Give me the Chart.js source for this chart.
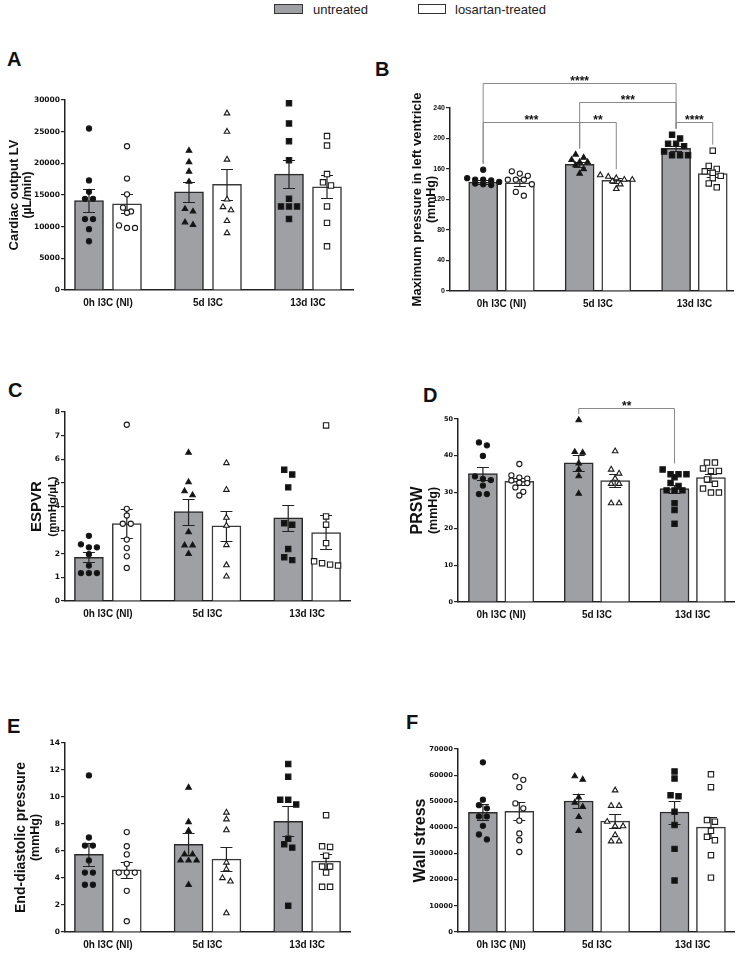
<!DOCTYPE html>
<html>
<head>
<meta charset="utf-8">
<script src="https://cdn.jsdelivr.net/npm/chart.js@4.4.1/dist/chart.umd.min.js"></script>
<style>
  body{margin:0;background:#fff;width:740px;height:953px;position:relative;overflow:hidden;
       font-family:"Liberation Sans",Arial,sans-serif;color:#222;}
  canvas{position:absolute;}
  .letter{position:absolute;font-weight:bold;font-size:20px;line-height:20px;color:#111;}
  .lgbox{position:absolute;height:8px;border:1.5px solid #333;}
  .lgtxt{position:absolute;font-size:13px;line-height:13px;}
</style>
</head>
<body>
<script>
// ---- data ----
const GROUPS = ['0h I3C (NI)', '5d I3C', '13d I3C'];
const SERIES = ['untreated', 'losartan-treated'];

// A: cardiac output LV (µL/min)
const coMeanU = [14100, 15500, 18300];
const coSemU  = [1800, 1600, 2250];
const coMeanL = [13600, 16700, 16300];
const coSemL  = [1500, 2450, 1800];
const coPtsU = [[25500,17300,15500,14400,14400,11200,11200,9600,7700],
                [22000,20200,18700,17100,12800,12400,10700,10300],
                [29500,26300,23500,20500,14400,13200,13200,13200,11200]];
const coPtsL = [[22700,17600,15100,13000,12400,12200,10200,9800,9800],
                [27900,25000,20600,14300,13100,12600,10900,9000],
                [24300,22800,18300,17000,16500,13200,10600,6900]];

// B: maximum pressure in left ventricle (mmHg)
const lvpMeanU = [143, 166, 187];
const lvpSemU  = [3, 3, 3.5];
const lvpMeanL = [142, 145, 154];
const lvpSemL  = [4.5, 3, 5];
const lvpPtsU = [[159,148,146,146,145,143,141,140,139],
                 [179,175,172,169,169,165,160,154],
                 [205,200,193,193,190,183,178,178,178]];
const lvpPtsL = [[157,154,151,146,146,146,140,130,125],
                 [152,150,148,146,146,144,140,134],
                 [184,164,160,157,155,151,148,141,136]];
const lvpSig = [
  {a:[0,0], b:[2,0], level:273, text:'****'},
  {a:[1,0], b:[2,0], level:248, text:'***'},
  {a:[0,0], b:[1,0], level:222, text:'***'},
  {a:[1,0], b:[1,1], level:222, text:'**'},
  {a:[2,0], b:[2,1], level:222, text:'****'}
];

// C: ESPVR (mmHg/µL)
const espMeanU = [1.85, 3.78, 3.52];
const espSemU  = [0.21, 0.55, 0.55];
const espMeanL = [3.28, 3.18, 2.9];
const espSemL  = [0.6, 0.65, 0.72];
const espPtsU = [[2.76,2.4,2.27,2.27,1.98,1.5,1.18,1.18,1.18],
                 [6.28,5.03,4.65,4.48,2.92,2.36,2.36,2.0],
                 [5.56,5.35,4.81,3.29,3.23,2.2,1.85,1.73]];
const espPtsL = [[7.46,3.9,3.62,3.27,3.27,2.6,2.24,1.89,1.4],
                 [5.84,4.71,3.53,3.19,2.37,1.52,1.04],
                 [7.43,3.58,3.23,2.45,1.68,1.6,1.54,1.5]];

// D: PRSW (mmHg)
const prswMeanU = [35.1, 38.0, 31.0];
const prswSemU  = [1.9, 2.1, 1.1];
const prswMeanL = [33.0, 33.2, 34.0];
const prswSemL  = [1.0, 1.7, 1.1];
const prswPtsU = [[43.6,42.8,39.9,34.3,33.6,33.3,31.8,29.5,29.5],
                  [49.7,41.0,40.8,37.9,36.2,34.4,29.6],
                  [36.2,34.9,34.9,34.9,34.1,32.5,31.7,30.5,30.5,30.5,27.0,25.1,21.4]];
const prswPtsL = [[37.7,34.6,34.0,33.7,33.2,32.6,32.5,31.3,30.1,29.1],
                  [41.2,36.2,35.1,33.7,32.3,32.3,27.0,27.0],
                  [38.1,38.1,36.5,35.8,35.8,33.5,32.3,31.0,29.9,29.9]];
const prswSig = [{a:[1,0], b:[2,0], level:53, text:'**'}];

// E: end-diastolic pressure (mmHg)
const edpMeanU = [5.75, 6.5, 8.2];
const edpSemU  = [0.85, 0.8, 1.1];
const edpMeanL = [4.6, 5.4, 5.25];
const edpSemL  = [0.6, 0.9, 0.55];
const edpPtsU = [[11.6,7.0,6.4,6.4,5.3,4.4,4.4,3.5,3.5],
                 [10.7,8.15,7.5,5.75,5.75,5.3,5.3,5.3,3.5],
                 [12.45,11.5,9.8,9.8,9.45,6.9,6.5,6.25,1.95]];
const edpPtsL = [[7.4,6.35,5.75,5.05,4.4,4.4,4.4,3.05,0.8],
                 [8.85,8.35,7.55,5.15,4.65,4.0,3.75,1.4],
                 [8.65,6.35,6.3,5.65,4.85,4.85,4.4,3.35,3.35]];

// F: wall stress
const wsMeanU = [45800, 50100, 45900];
const wsSemU  = [3000, 2500, 4400];
const wsMeanL = [46200, 42400, 40100];
const wsSemL  = [3500, 2700, 4000];
const wsPtsU = [[64900,50600,48500,47300,44200,44200,40600,37300,35400],
                [59600,58300,51500,49500,47900,44000,38700],
                [61400,58700,52300,51900,46000,40900,31800,19700]];
const wsPtsL = [[59500,58200,55400,49200,47300,42600,37700,35100,30600],
                [54200,48300,48300,42200,40500,40500,37100,34700,34700],
                [60300,55400,42800,42200,38700,36400,35100,29400,20800]];

// ---- styling / layout ----
const BAR_FILL = ['#9fa0a4', '#ffffff'];
const BAR_EDGE = ['#2a2a2a', '#3a3a3a'];
const MARK_FILL = ['#111111', '#ffffff'];
const MARK_STYLE = ['circle', 'triangle', 'rect'];
const MARK_R = [2.6, 3.2, 3.8];
const OFF = [-0.19, 0.19];
const FONT = '"Liberation Sans", Arial, sans-serif';
const WIDE = '"DejaVu Sans", sans-serif';

const PANELS = [
  {letter:'A', lpos:[7,49], box:[0,40,365,280], area:[65,100,353,290], xr:[-0.43,2.45], yMax:30000, step:5000,
   tick:{family:WIDE, size:7.5},
   mean:[coMeanU,coMeanL], sem:[coSemU,coSemL], pts:[coPtsU,coPtsL], sig:[],
   title:[{text:'Cardiac output LV', size:13, x:14},{text:'(µL/min)', size:12, x:28}]},
  {letter:'B', lpos:[375,59], box:[370,40,370,280], area:[450,108,733,291], xr:[-0.534,2.40], yMax:240, step:40,
   tick:{family:FONT, size:7},
   mean:[lvpMeanU,lvpMeanL], sem:[lvpSemU,lvpSemL], pts:[lvpPtsU,lvpPtsL], sig:lvpSig,
   title:[{text:'Maximum pressure in left ventricle', size:13, x:47},{text:'(mmHg)', size:12.5, x:62}]},
  {letter:'C', lpos:[8,380], box:[0,360,365,270], area:[65,412,350,601], xr:[-0.43,2.43], yMax:8, step:1,
   tick:{family:WIDE, size:7.5},
   mean:[espMeanU,espMeanL], sem:[espSemU,espSemL], pts:[espPtsU,espPtsL], sig:[],
   title:[{text:'ESPVR', size:15, x:37},{text:'(mmHg/µL)', size:11.5, x:53}]},
  {letter:'D', lpos:[423,385], box:[370,360,370,270], area:[458,419,737,602], xr:[-0.45,2.44], yMax:50, step:10,
   tick:{family:WIDE, size:6.5},
   mean:[prswMeanU,prswMeanL], sem:[prswSemU,prswSemL], pts:[prswPtsU,prswPtsL], sig:prswSig,
   title:[{text:'PRSW', size:16, x:48},{text:'(mmHg)', size:12.5, x:64}]},
  {letter:'E', lpos:[7,716], box:[0,680,365,273], area:[65,743,350,932], xr:[-0.43,2.43], yMax:14, step:2,
   tick:{family:WIDE, size:7.5},
   mean:[edpMeanU,edpMeanL], sem:[edpSemU,edpSemL], pts:[edpPtsU,edpPtsL], sig:[],
   title:[{text:'End-diastolic pressure', size:14, x:21},{text:'(mmHg)', size:12.5, x:36}]},
  {letter:'F', lpos:[406,712], box:[370,680,370,273], area:[458,749,737,932], xr:[-0.45,2.44], yMax:70000, step:10000,
   tick:{family:WIDE, size:6.8},
   mean:[wsMeanU,wsMeanL], sem:[wsSemU,wsSemL], pts:[wsPtsU,wsPtsL], sig:[],
   title:[{text:'Wall stress', size:16, x:51}]}
];

// spread points of one column sideways (GraphPad-like rows)
function swarm(vals, pxY, pxX){
  const idx = vals.map((v,i)=>i).sort((a,b)=>vals[b]-vals[a]);
  const out = new Array(vals.length).fill(0);
  let row = [];
  const flush = () => { row.forEach((k,j)=>{ out[k] = (j-(row.length-1)/2)*8/pxX; }); row = []; };
  idx.forEach(k => {
    if(row.length && (vals[row[0]]-vals[k])*pxY > 5) flush();
    row.push(k);
  });
  flush();
  return out;
}

// ---- plugins ----
const errBars = {
  id:'errbars',
  afterDatasetDraw(chart, args){
    const ds = chart.data.datasets[args.index];
    if(!ds.sem) return;
    const y = chart.scales.y, ctx = chart.ctx;
    ctx.save();
    ctx.strokeStyle = '#222'; ctx.lineWidth = 1.2;
    args.meta.data.forEach((bar,i)=>{
      const m = ds.data[i].y, s = ds.sem[i];
      const y1 = Math.round(y.getPixelForValue(m+s))+0.5, y2 = Math.round(y.getPixelForValue(m-s))+0.5;
      ctx.beginPath();
      ctx.moveTo(bar.x, y1); ctx.lineTo(bar.x, y2);
      ctx.moveTo(bar.x-6, y1); ctx.lineTo(bar.x+6, y1);
      ctx.moveTo(bar.x-6, y2); ctx.lineTo(bar.x+6, y2);
      ctx.stroke();
    });
    ctx.restore();
  }
};

const sigBrackets = {
  id:'sig',
  afterDatasetsDraw(chart, args, opts){
    if(!opts.items || !opts.items.length) return;
    const xs = chart.scales.x, ys = chart.scales.y, ctx = chart.ctx;
    const end = (g) => {
      const x = xs.getPixelForValue(g[0] + OFF[g[1]]);
      const top = ys.getPixelForValue(Math.max(...opts.pts[g[1]][g[0]])) - 6;
      return {x, top};
    };
    ctx.save();
    opts.items.forEach(b=>{
      const A = end(b.a), B = end(b.b);
      const yl = Math.round(ys.getPixelForValue(b.level))+0.5;
      ctx.strokeStyle = '#8a8a8a'; ctx.lineWidth = 1;
      ctx.beginPath();
      ctx.moveTo(A.x, A.top); ctx.lineTo(A.x, yl); ctx.lineTo(B.x, yl); ctx.lineTo(B.x, B.top);
      ctx.stroke();
      ctx.fillStyle = '#111';
      ctx.font = 'bold 12px ' + FONT;
      ctx.textAlign = 'center'; ctx.textBaseline = 'alphabetic';
      ctx.fillText(b.text, (A.x+B.x)/2, yl + 1);
    });
    ctx.restore();
  }
};

const yTitle = {
  id:'ytitle',
  afterDraw(chart, args, opts){
    const ctx = chart.ctx, a = chart.chartArea;
    const cy = (a.top + a.bottom)/2;
    (opts.lines||[]).forEach(l=>{
      ctx.save();
      ctx.translate(l.x, cy);
      ctx.rotate(-Math.PI/2);
      ctx.font = 'bold ' + l.size + 'px ' + FONT;
      ctx.fillStyle = '#111';
      ctx.textAlign = 'center'; ctx.textBaseline = 'middle';
      ctx.fillText(l.text, 0, 0);
      ctx.restore();
    });
  }
};

// ---- legend (top) ----
(function(){
  const items = [{box:[274,4,27], txt:313}, {box:[418,4,26], txt:455}];
  items.forEach((it,s)=>{
    const b = document.createElement('div');
    b.className = 'lgbox';
    b.style.left = it.box[0]+'px'; b.style.top = it.box[1]+'px'; b.style.width = it.box[2]+'px';
    b.style.background = BAR_FILL[s];
    document.body.appendChild(b);
    const t = document.createElement('div');
    t.className = 'lgtxt';
    t.style.left = it.txt+'px'; t.style.top = '3px';
    t.textContent = SERIES[s];
    document.body.appendChild(t);
  });
})();

// ---- panels ----
PANELS.forEach(p=>{
  const L = document.createElement('div');
  L.className = 'letter'; L.textContent = p.letter;
  L.style.left = p.lpos[0]+'px'; L.style.top = p.lpos[1]+'px';
  document.body.appendChild(L);

  const cv = document.createElement('canvas');
  cv.width = p.box[2]; cv.height = p.box[3];
  cv.style.left = p.box[0]+'px'; cv.style.top = p.box[1]+'px';
  document.body.appendChild(cv);

  const pxY = (p.area[3]-p.area[1]) / p.yMax;
  const pxX = (p.area[2]-p.area[0]) / (p.xr[1]-p.xr[0]);

  const datasets = [];
  [0,1].forEach(s=>{
    datasets.push({
      type:'bar', label:SERIES[s], order:2,
      data: p.mean[s].map((m,g)=>({x:g+OFF[s], y:m})),
      sem: p.sem[s],
      backgroundColor:BAR_FILL[s], borderColor:BAR_EDGE[s], borderWidth:1.5,
      barThickness:29, grouped:false
    });
  });
  [0,1].forEach(s=>{
    p.pts[s].forEach((vals,g)=>{
      const dx = swarm(vals, pxY, pxX);
      datasets.push({
        type:'scatter', label:SERIES[s]+' '+GROUPS[g], order:1, clip:false,
        data: vals.map((v,i)=>({x:g+OFF[s]+dx[i], y:v})),
        pointStyle:MARK_STYLE[g], pointRadius:MARK_R[g],
        pointBackgroundColor:MARK_FILL[s], pointBorderColor:'#1a1a1a', pointBorderWidth:1.1
      });
    });
  });

  new Chart(cv.getContext('2d'), {
    type:'bar',
    data:{datasets},
    plugins:[errBars, sigBrackets, yTitle],
    options:{
      responsive:false, animation:false, devicePixelRatio:1,
      layout:{padding:{top:p.area[1]-p.box[1], left:0, right:p.box[0]+p.box[2]-p.area[2], bottom:0}},
      plugins:{
        legend:{display:false}, tooltip:{enabled:false},
        sig:{items:p.sig, pts:p.pts},
        ytitle:{lines:p.title}
      },
      scales:{
        x:{
          type:'linear', min:p.xr[0], max:p.xr[1], offset:false, bounds:'ticks',
          grid:{display:false, drawTicks:false},
          border:{display:true, color:'#222', width:1.5},
          afterBuildTicks: s => { s.ticks = GROUPS.map((g,i)=>({value:i})); },
          afterFit: s => { s.height = p.box[1]+p.box[3]-p.area[3]; },
          ticks:{callback:v=>GROUPS[v], font:{family:FONT, size:10, weight:'bold'}, color:'#111',
                 padding:7, maxRotation:0, autoSkip:false}
        },
        y:{
          min:0, max:p.yMax,
          grid:{drawOnChartArea:false, drawTicks:true, tickLength:4, color:'#222', lineWidth:1.2},
          border:{display:true, color:'#222', width:1.5},
          afterFit: s => { s.width = p.area[0]-p.box[0]; },
          ticks:{stepSize:p.step, callback:v=>String(v), font:{family:p.tick.family, size:p.tick.size, weight:'bold'},
                 color:'#111', padding:1}
        }
      }
    }
  });
});
</script>
</body>
</html>
